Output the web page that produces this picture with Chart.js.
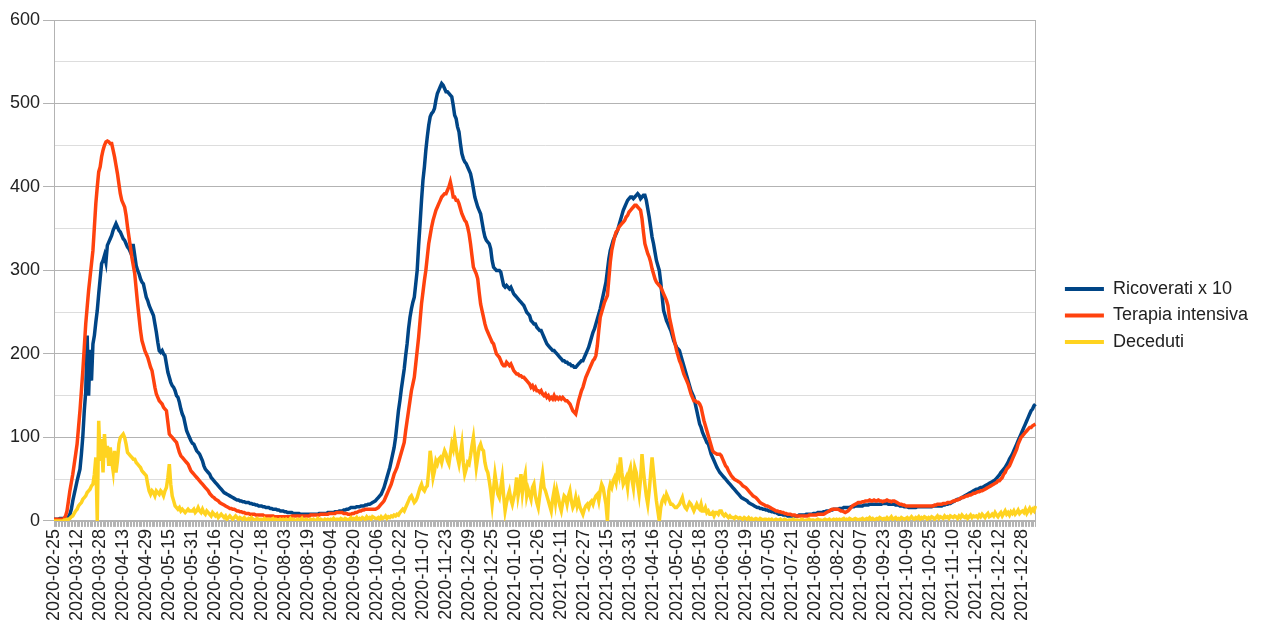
<!DOCTYPE html>
<html>
<head>
<meta charset="utf-8">
<script src="https://cdn.jsdelivr.net/npm/chart.js@4.4.1/dist/chart.umd.min.js"></script>
<style>
html, body { margin: 0; padding: 0; background: #fff; }
</style>
</head>
<body>
<canvas id="lineChart" width="1268" height="627"></canvas>
<script>
// daily values, one row = 16 days (one x label step)
const startDate = '2020-02-25';
const labelEvery = 16;

const ricoverati = [
  2,2,2,2,3,3,3,3,4,4,5,8,14,24,32,40,
  48,55,62,80,102,132,155,222,150,205,168,212,222,238,252,272,
  290,308,312,318,310,330,334,338,342,348,352,356,352,348,346,342,
  338,336,332,328,326,322,330,330,318,306,300,296,290,286,284,276,
  268,264,258,254,250,246,236,226,214,204,202,204,200,198,188,178,
  172,166,162,160,156,150,148,142,134,128,124,116,108,104,100,96,
  93,92,88,84,82,80,76,72,66,62,60,58,56,52,50,48,
  46,44,42,40,38,36,34,33,32,31,30,29,28,27,26,25,
  25,24,24,23,23,22,22,22,21,21,20,20,19,19,18,18,
  18,17,17,16,16,16,15,15,14,14,14,13,13,12,12,12,
  11,11,10,10,10,10,9,9,9,9,9,8,8,8,8,8,
  8,8,8,8,8,8,8,8,9,9,9,9,9,9,10,10,
  10,10,10,11,11,11,12,12,12,13,13,14,14,15,16,16,
  16,16,17,17,17,18,18,18,19,19,20,20,21,22,23,24,
  26,28,30,32,36,40,46,52,58,64,72,80,88,100,116,132,
  144,158,170,182,198,212,230,244,254,262,268,284,300,330,356,384,
  408,424,444,460,474,484,488,490,494,504,512,516,520,524,522,518,
  514,514,512,510,508,498,486,482,472,466,452,440,434,430,428,424,
  420,416,408,398,388,382,376,372,368,358,348,340,336,334,332,326,
  312,304,302,300,300,300,298,290,282,280,282,280,278,280,276,272,
  270,268,266,264,262,260,258,254,250,248,246,240,238,236,236,232,
  230,228,228,224,220,216,212,210,208,206,204,204,202,200,198,196,
  194,192,192,190,190,188,188,186,186,184,184,186,188,190,192,192,
  196,200,204,208,214,220,226,230,236,242,248,254,262,270,278,286,
  300,314,324,330,336,340,344,348,354,360,366,372,376,380,384,386,
  388,388,386,388,390,392,390,386,388,390,390,384,374,364,352,340,
  332,322,312,306,300,286,268,252,246,240,236,232,228,222,216,212,
  208,206,204,198,192,186,180,174,168,162,156,152,148,140,132,124,
  116,112,106,102,98,94,92,86,80,76,72,68,64,61,58,56,
  54,52,50,48,46,44,42,40,38,36,34,32,30,28,27,26,
  25,24,22,21,20,19,18,17,16,16,15,15,14,14,13,13,
  12,12,11,11,10,10,9,8,8,8,7,7,7,6,6,6,
  6,6,6,6,6,7,7,7,7,7,8,8,8,8,8,9,
  9,9,10,10,10,10,11,11,12,12,12,13,13,14,14,14,
  14,15,15,15,16,16,16,16,16,17,17,17,18,18,18,18,
  18,18,19,19,19,19,20,20,20,20,20,20,20,20,20,21,
  21,21,21,20,20,20,20,20,19,19,19,18,18,18,17,17,
  17,16,16,16,16,16,16,17,17,17,17,17,17,17,17,17,
  17,17,18,18,18,18,18,18,18,19,19,20,20,21,21,22,
  23,24,25,26,26,27,28,29,30,31,32,33,34,35,36,37,
  38,38,39,40,40,41,42,43,44,45,46,47,48,49,51,53,
  55,58,60,62,64,67,70,74,77,80,84,88,92,96,100,104,
  108,112,116,120,124,128,132,134,138,140
];

const terapiaIntensiva = [
  2,2,2,2,2,2,2,3,6,12,24,36,46,56,68,80,
  92,112,132,156,180,208,236,256,276,292,308,324,352,380,400,418,
  424,436,444,450,454,455,454,452,452,444,436,426,416,404,392,384,
  380,376,366,352,340,328,316,306,296,278,260,244,228,216,210,204,
  200,196,190,184,180,170,160,152,148,144,142,140,136,134,132,118,
  104,102,100,98,96,94,88,82,78,76,74,72,70,68,64,60,
  58,56,54,52,50,48,46,44,42,40,38,36,33,31,29,28,
  26,25,24,22,21,20,19,18,17,16,15,15,14,14,13,12,
  12,11,11,10,10,9,9,9,8,8,8,8,7,7,7,7,
  7,7,6,6,6,6,6,6,6,5,5,5,5,5,5,5,
  5,5,5,5,5,6,6,6,6,6,6,6,6,6,6,6,
  6,6,7,7,7,7,7,7,7,8,8,8,8,8,8,9,
  9,9,9,9,10,10,10,10,10,9,9,9,8,8,8,9,
  9,10,10,11,12,12,13,13,14,14,14,14,14,14,14,14,
  15,16,18,20,22,24,28,32,36,40,44,50,56,60,64,70,
  76,82,88,94,108,120,132,144,156,164,172,188,204,220,240,260,
  274,288,300,316,332,342,352,360,366,372,376,380,384,388,390,392,
  392,396,400,406,398,388,388,384,384,380,374,368,364,360,358,352,
  344,332,318,304,300,296,290,274,260,252,244,236,230,226,222,218,
  214,212,206,200,198,196,192,188,186,186,190,188,186,188,184,180,
  178,176,176,174,174,172,172,170,168,166,164,160,162,158,160,156,
  156,154,156,152,150,152,148,150,146,148,146,150,146,148,146,148,
  146,148,146,144,144,142,140,136,132,130,128,136,144,150,156,160,
  166,172,176,180,184,188,192,194,198,210,228,244,250,256,262,266,
  270,290,310,324,332,340,346,348,352,354,356,358,360,364,366,370,
  372,374,376,378,378,376,374,372,362,346,332,326,320,316,310,302,
  296,290,286,284,282,280,276,272,268,264,258,244,236,228,220,212,
  204,198,192,188,182,176,172,168,164,158,152,148,144,144,142,142,
  140,136,128,120,114,108,102,96,90,84,82,81,80,80,80,78,
  74,70,66,64,60,57,54,52,50,49,48,47,46,44,42,41,
  40,38,36,34,32,30,29,28,26,24,22,21,20,19,18,18,
  17,16,15,14,13,12,12,11,11,10,10,9,9,8,8,8,
  7,7,7,6,6,6,6,6,6,6,6,6,7,7,7,7,
  7,7,8,8,8,8,8,9,10,11,12,13,14,14,14,14,
  14,13,12,12,11,10,11,12,14,16,18,19,20,21,22,22,
  22,23,23,24,24,24,25,24,24,25,24,24,25,24,24,23,
  24,24,25,24,24,23,24,24,23,22,21,20,20,19,19,18,
  18,18,18,18,18,18,18,18,18,18,18,18,18,18,18,18,
  18,18,18,19,19,20,20,20,20,21,21,21,22,22,22,23,
  24,24,25,25,26,27,28,28,29,30,30,31,31,32,33,33,
  34,35,35,36,36,37,38,39,40,41,42,43,44,45,46,48,
  48,50,52,56,58,62,64,66,70,74,78,82,86,92,96,100,
  102,104,106,108,110,112,112,114,115,116
];

const deceduti = [
  0,0,0,0,0,0,0,1,1,2,2,3,5,6,9,12,
  14,18,20,22,26,28,30,34,36,38,42,44,56,76,0,120,
  72,98,58,104,76,90,66,88,72,60,84,58,72,92,100,102,
  104,100,92,82,80,78,76,74,74,70,68,66,64,60,58,56,
  54,44,36,32,36,34,30,36,34,32,36,34,30,36,40,52,
  68,44,30,24,18,16,14,16,12,14,12,10,12,14,12,12,
  12,14,10,12,16,12,10,14,10,8,12,10,8,6,10,8,
  6,8,4,6,8,6,4,6,2,4,6,4,2,4,6,4,
  2,4,3,2,4,2,1,3,2,4,2,1,2,3,1,2,
  2,1,3,1,2,2,0,2,3,1,2,1,0,2,1,2,
  1,2,0,1,3,1,2,1,0,2,1,1,3,0,1,2,
  1,0,2,1,2,0,1,3,1,2,1,0,2,1,2,1,
  2,1,3,1,2,2,1,3,2,1,3,2,1,2,4,2,
  3,2,4,1,3,2,4,3,2,5,3,4,2,5,4,3,
  3,4,2,5,3,4,6,3,5,4,6,5,7,6,8,7,
  10,12,14,12,16,20,24,28,30,26,22,24,28,34,40,44,
  38,36,40,42,60,84,70,52,60,72,68,74,76,70,78,84,
  80,72,68,80,92,86,100,88,76,68,80,92,70,56,62,70,
  68,78,90,100,82,64,76,88,92,86,84,70,62,58,48,36,
  20,38,56,44,32,28,40,52,30,12,22,30,36,26,20,28,
  36,52,30,40,56,34,48,56,30,38,32,26,40,44,30,22,
  16,30,44,56,40,36,30,24,18,12,26,36,22,36,28,18,
  12,22,30,28,20,30,36,24,16,20,28,18,24,16,12,8,
  14,18,20,16,22,24,20,26,30,32,24,36,44,40,30,20,
  0,36,44,40,48,52,46,60,54,76,58,44,48,52,40,58,
  64,50,40,64,58,44,32,50,80,60,44,30,20,36,56,76,
  58,40,24,12,0,16,24,28,24,32,28,24,20,20,18,16,
  16,18,20,24,28,20,16,14,18,22,20,16,12,16,20,16,
  14,20,12,12,16,10,12,8,8,10,6,10,10,8,12,12,
  8,6,8,6,4,6,4,4,3,5,4,3,4,3,2,4,
  3,2,4,2,3,1,2,3,2,1,3,2,1,2,2,1,
  2,1,2,0,1,2,1,1,2,0,1,2,1,0,1,1,
  1,2,0,1,1,0,1,2,1,0,1,1,2,0,1,1,
  0,1,2,1,1,0,1,2,1,1,2,0,1,2,1,2,
  1,2,1,2,3,1,2,1,3,2,1,2,3,2,1,2,
  2,3,1,2,3,2,4,2,3,1,2,3,2,4,3,2,
  3,2,4,2,3,5,2,3,4,2,3,2,4,3,2,3,
  4,2,3,5,3,2,4,3,5,2,4,3,5,4,2,4,
  3,5,4,2,4,6,3,5,4,3,6,4,5,3,6,5,
  4,6,5,3,6,4,7,5,4,6,3,5,7,4,6,5,
  6,4,7,5,8,6,4,7,9,5,6,8,6,10,7,5,
  8,10,6,9,12,8,10,7,11,9,12,8,10,13,9,11,
  12,10,14,9,12,15,11,14,12,18
];

const seriesNames = ['Ricoverati x 10', 'Terapia intensiva', 'Deceduti'];
const seriesColors = ['#004586', '#ff420e', '#ffd320'];

// one category per day
const dates = [];
const d0 = new Date(startDate + 'T00:00:00Z');
for (let i = 0; i < ricoverati.length; i++) {
  dates.push(new Date(d0.getTime() + i * 86400000).toISOString().slice(0, 10));
}

const FONT = { family: "'Liberation Sans', Arial, sans-serif", size: 18 };

const plotBorder = {
  id: 'plotBorder',
  beforeDatasetsDraw(chart) {
    const { ctx, chartArea: a } = chart;
    ctx.save();
    ctx.strokeStyle = '#b3b3b3';
    ctx.lineWidth = 1;
    ctx.strokeRect(Math.round(a.left) + 0.5, Math.round(a.top) + 0.5,
      Math.round(a.right - a.left), Math.round(a.bottom - a.top));
    ctx.restore();
  }
};

const data = {
  labels: dates,
  datasets: [ricoverati, terapiaIntensiva, deceduti].map((vals, k) => ({
    label: seriesNames[k],
    data: vals,
    xAxisID: 'x',
    yAxisID: 'y',
    borderColor: seriesColors[k],
    backgroundColor: seriesColors[k],
    borderWidth: 3.5,
    pointRadius: 0,
    tension: 0,
    order: 2 - k
  }))
};

// empty boxes used only as spacing around the plot
const spacer = (position, size) => ({
  type: 'linear',
  position,
  grid: { display: false },
  border: { display: false },
  ticks: { display: false },
  afterFit: s => { if (s.isHorizontal()) s.height = size; else s.width = size; }
});

const config = {
  type: 'line',
  data,
  plugins: [plotBorder],
  options: {
    responsive: false,
    animation: false,
    layout: { padding: { left: 7, right: 10, top: 8, bottom: 4 } },
    plugins: {
      tooltip: { enabled: false },
      legend: {
        position: 'right',
        labels: {
          boxWidth: 39,
          boxHeight: 4,
          padding: 8.5,
          color: '#222',
          font: FONT,
          sort: (a, b) => a.datasetIndex - b.datasetIndex,
          generateLabels: chart => Chart.defaults.plugins.legend.labels.generateLabels(chart)
            .map(l => Object.assign(l, { lineWidth: 0 }))
        }
      }
    },
    scales: {
      x: {
        type: 'category',
        grid: { drawOnChartArea: false, color: '#b3b3b3', tickLength: 6 },
        border: { color: '#b3b3b3' },
        ticks: {
          autoSkip: false,
          minRotation: 90,
          maxRotation: 90,
          padding: 2,
          color: '#222',
          font: FONT,
          callback: function (value, index) {
            return index % labelEvery === 0 ? this.getLabelForValue(value) : '';
          }
        }
      },
      y: {
        type: 'linear',
        min: 0,
        max: 600,
        grid: {
          color: c => (c.tick.value % 100 === 0 ? '#b3b3b3' : '#dddddd'),
          tickColor: c => (c.tick.value % 100 === 0 ? '#b3b3b3' : 'rgba(0,0,0,0)'),
          tickLength: 11
        },
        border: { color: '#b3b3b3' },
        ticks: {
          stepSize: 50,
          padding: 3,
          color: '#222',
          font: FONT,
          callback: v => (v % 100 === 0 ? v : '')
        }
      },
      gapRight: spacer('right', 21),
      gapTop: spacer('top', 12)
    }
  }
};

new Chart(document.getElementById('lineChart'), config);
</script>
</body>
</html>
